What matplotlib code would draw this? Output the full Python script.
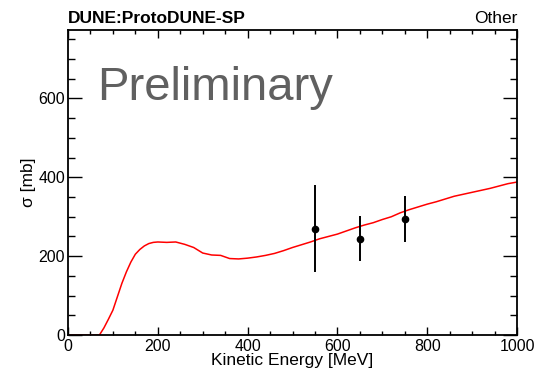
import matplotlib.pyplot as plt
from matplotlib.ticker import MultipleLocator

plt.rcParams['font.family'] = ['Liberation Sans', 'DejaVu Sans']

# Predicted cross section curve
energy = [0, 60, 70, 80, 90, 100, 110, 120, 130, 140, 150, 160, 170, 180, 190,
          200, 220, 240, 260, 280, 300, 320, 340, 360, 380, 400, 420, 440, 460,
          480, 500, 520, 540, 560, 580, 600, 620, 640, 660, 680, 700, 720, 740,
          760, 780, 800, 820, 840, 860, 880, 900, 920, 940, 960, 980, 1000]
sigma = [0, 0, 0, 18, 40, 63, 97, 131, 160, 185, 205, 217, 226, 232, 235,
         236, 235, 236, 230, 222, 208, 203, 202, 194, 193, 195, 198, 202, 207,
         214, 222, 229, 236, 244, 250, 256, 264, 272, 279, 285, 293, 300, 310,
         318, 325, 332, 338, 345, 352, 357, 362, 367, 372, 378, 384, 388]

# Measured points
data_e = [550, 650, 750]
data_sigma = [270, 244, 295]
data_err = [110, 57, 58]

fig = plt.figure(figsize=(5.37, 3.76), dpi=100)
ax = fig.add_axes([0.1266, 0.109, 0.8362, 0.8125])

ax.plot(energy, sigma, color='red', lw=1.1)
ax.errorbar(data_e, data_sigma, yerr=data_err, fmt='o', color='black',
            ms=4.5, elinewidth=1.4, capsize=0)

ax.set_xlim(0, 1000)
ax.set_ylim(0, 775)
ax.xaxis.set_major_locator(MultipleLocator(200))
ax.xaxis.set_minor_locator(MultipleLocator(50))
ax.yaxis.set_major_locator(MultipleLocator(200))
ax.yaxis.set_minor_locator(MultipleLocator(50))
ax.tick_params(axis='both', which='both', direction='in', top=True, right=True,
               labelsize=11.5, width=1.0, color='black')
ax.tick_params(axis='x', which='major', length=6, pad=3)
ax.tick_params(axis='x', which='minor', length=3)
ax.tick_params(axis='y', which='major', length=10, pad=2)
ax.tick_params(axis='y', which='minor', length=5)
for s in ax.spines.values():
    s.set_linewidth(1.3)

ax.set_xlabel('Kinetic Energy [MeV]', fontsize=12.5, labelpad=-1)
ax.set_ylabel('σ [mb]', fontsize=12.5, labelpad=2)

ax.text(0.0, 1.012, 'DUNE:ProtoDUNE-SP', transform=ax.transAxes,
        fontsize=12.5, fontweight='bold', ha='left', va='bottom')
ax.text(1.0, 1.012, 'Other', transform=ax.transAxes,
        fontsize=12.5, ha='right', va='bottom')
ax.text(0.065, 0.77, 'Preliminary', transform=ax.transAxes,
        fontsize=34, color='#606060', ha='left', va='baseline')

fig.savefig('out.png', dpi=100)
